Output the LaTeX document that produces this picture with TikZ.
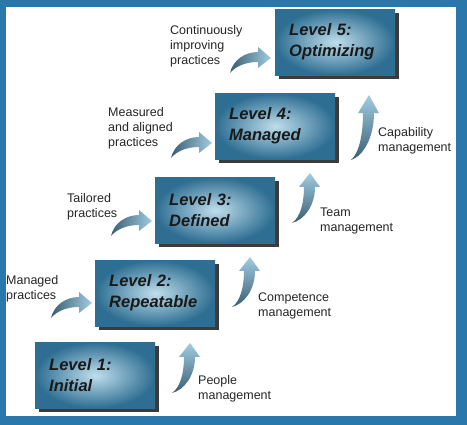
\documentclass[tikz,border=0pt]{standalone}
\usepackage{fontspec}
\setmainfont{Liberation Sans}
\usetikzlibrary{shadows}
\definecolor{frameblue}{RGB}{42,119,172}
\definecolor{boxedge}{RGB}{46,110,146}
\definecolor{boxcore}{RGB}{192,222,236}
\definecolor{arrowdark}{RGB}{58,94,114}
\definecolor{arrowlight}{RGB}{160,204,226}

\tikzset{
  level box/.style={anchor=north west, minimum width=120pt, minimum height=66pt,
    inner sep=0pt, text width=92pt, align=left, inner color=boxcore, outer color=boxedge,
    drop shadow={shadow xshift=4pt, shadow yshift=-4pt, fill=black!85, opacity=0.9},
    font=\fontsize{16.5}{21}\selectfont\bfseries\itshape, text=black!90},
  note/.style={anchor=north west, inner sep=0pt, align=left,
    font=\fontsize{12.5}{15}\selectfont, text=black!85},
  practice arrow/.pic={
    \shade[left color=arrowdark, right color=arrowlight]
      (0,0) .. controls (3,-13) and (15,-21) .. (28,-21) -- (28,-26) -- (41,-15)
      -- (28,-5) -- (28,-11) .. controls (16,-11) and (6,-7) .. cycle;
  },
  skill arrow/.pic={
    \shade[bottom color=arrowdark, top color=arrowlight]
      (0,0) .. controls (9,-6) and (12,-22) .. (12,-36) -- (7,-36) -- (18,-50)
      -- (28,-36) -- (23,-36) .. controls (23,-17) and (12,-3) .. cycle;
  }
}

\begin{document}
\begin{tikzpicture}[x=1pt, y=-1pt]
  \fill[frameblue] (0,0) rectangle (467,425);
  \fill[white] (6,7) rectangle (456,416);
  % maturity levels
  \node[level box] (l5) at (275,9) {Level 5:\\Optimizing};
  \node[level box] (l4) at (215,93) {Level 4:\\Managed};
  \node[level box] (l3) at (155,177) {Level 3:\\Defined};
  \node[level box] (l2) at (95,260) {Level 2:\\Repeatable};
  \node[level box] (l1) at (35,342) {Level 1:\\Initial};
  % practices on the left
  \node[note] (cont) at (170,25) {Continuously\\improving\\practices};
  \node[note] (meas) at (108,107) {Measured\\and aligned\\practices};
  \node[note] (tail) at (67,193) {Tailored\\practices};
  \node[note] (mgd) at (6,275) {Managed\\practices};
  \pic at (230,73) {practice arrow};
  \pic at (171,158) {practice arrow};
  \pic at (111,236) {practice arrow};
  \pic at (51,318) {practice arrow};
  % management on the right
  \node[note] (capab) at (378,127) {Capability\\management};
  \node[note] (team) at (320,208) {Team\\management};
  \node[note] (comp) at (258,293) {Competence\\management};
  \node[note] (people) at (198,375) {People\\management};
  \pic[yscale=1.3] at (351,160) {skill arrow};
  \pic at (292,223) {skill arrow};
  \pic at (232,307) {skill arrow};
  \pic at (172,393) {skill arrow};
\end{tikzpicture}
\end{document}
